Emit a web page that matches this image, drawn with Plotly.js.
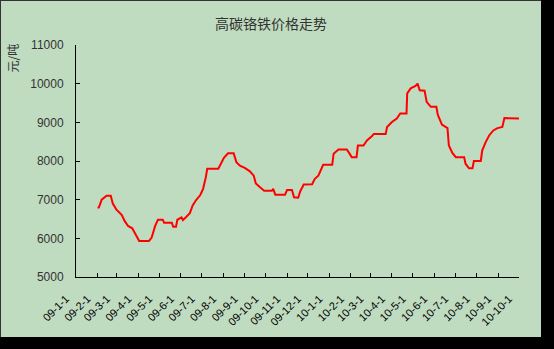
<!DOCTYPE html>
<html>
<head>
<meta charset="utf-8">
<script src="https://cdn.plot.ly/plotly-3.0.1.min.js"></script>
<style>
  html, body { margin: 0; padding: 0; background: #000; width: 554px; height: 349px; overflow: hidden; }
  #chart { position: absolute; left: 0; top: 0; width: 541px; height: 337px; box-sizing: border-box; border-top: 1px solid #333; border-left: 1px solid #333; }
</style>
</head>
<body>
<div id="chart"></div>
<script>
// Price data (元/吨)
const dates = [
  "2009-02-01","2009-02-03","2009-02-07","2009-02-14","2009-02-20","2009-02-23","2009-02-28",
  "2009-03-08","2009-03-12","2009-03-17","2009-03-23","2009-03-29","2009-04-02","2009-04-16",
  "2009-04-20","2009-04-25","2009-04-29","2009-05-06","2009-05-08","2009-05-19","2009-05-21",
  "2009-05-25","2009-05-27","2009-06-02","2009-06-04","2009-06-09","2009-06-14","2009-06-18",
  "2009-06-23","2009-06-29","2009-07-03","2009-07-07","2009-07-09","2009-07-25","2009-07-28",
  "2009-08-02","2009-08-08","2009-08-16","2009-08-20","2009-08-25","2009-09-01","2009-09-08",
  "2009-09-14","2009-09-17","2009-09-23","2009-09-29","2009-10-10","2009-10-12","2009-10-15",
  "2009-10-29","2009-11-01","2009-11-08","2009-11-11","2009-11-17","2009-11-20","2009-11-25",
  "2009-12-07","2009-12-11","2009-12-16","2009-12-23","2010-01-05","2010-01-07","2010-01-14",
  "2010-01-26","2010-01-30","2010-02-02","2010-02-09","2010-02-11","2010-02-19","2010-02-24",
  "2010-03-03","2010-03-06","2010-03-23","2010-03-25","2010-04-01","2010-04-08","2010-04-13",
  "2010-04-22","2010-04-23","2010-04-28","2010-05-05","2010-05-08","2010-05-11","2010-05-18",
  "2010-05-21","2010-05-27","2010-06-04","2010-06-06","2010-06-12","2010-06-20","2010-06-22",
  "2010-06-27","2010-07-02","2010-07-14","2010-07-16","2010-07-21","2010-07-26","2010-07-28",
  "2010-08-07","2010-08-09","2010-08-14","2010-08-19","2010-08-25","2010-08-31","2010-09-07",
  "2010-09-10","2010-10-01"
];
const prices = [
  6800,6800,7000,7100,7100,6900,6750,
  6600,6450,6320,6260,6070,5930,5930,
  6020,6320,6480,6480,6400,6400,6300,
  6300,6480,6540,6470,6560,6650,6850,
  6990,7120,7280,7580,7800,7800,7910,
  8080,8200,8200,7970,7880,7820,7740,
  7620,7420,7320,7230,7230,7280,7130,
  7130,7250,7250,7060,7050,7220,7390,
  7400,7540,7620,7900,7900,8190,8300,
  8300,8190,8100,8100,8400,8400,8530,
  8640,8700,8700,8880,9010,9100,9230,
  9230,9750,9880,9940,10000,9830,9820,
  9530,9400,9400,9200,8940,8850,8400,
  8210,8100,8100,7930,7810,7810,8000,
  8000,8270,8490,8660,8790,8850,8880,
  9110,9100
];
const tickDates = [
  "2009-01-01","2009-02-01","2009-03-01","2009-04-01","2009-05-01","2009-06-01",
  "2009-07-01","2009-08-01","2009-09-01","2009-10-01","2009-11-01","2009-12-01",
  "2010-01-01","2010-02-01","2010-03-01","2010-04-01","2010-05-01","2010-06-01",
  "2010-07-01","2010-08-01","2010-09-01","2010-10-01"
];
const tickLabels = [
  "09-1-1","09-2-1","09-3-1","09-4-1","09-5-1","09-6-1",
  "09-7-1","09-8-1","09-9-1","09-10-1","09-11-1","09-12-1",
  "10-1-1","10-2-1","10-3-1","10-4-1","10-5-1","10-6-1",
  "10-7-1","10-8-1","10-9-1","10-10-1"
];
const yTicks = [5000,6000,7000,8000,9000,10000,11000];
const titleText = "高碳铬铁价格走势";
const yTitle = "元/吨";

const trace = {
  x: dates,
  y: prices,
  type: "scatter",
  mode: "lines",
  line: { color: "#FF0000", width: 2 },
  hoverinfo: "skip"
};

const bg = "#C0DCC0";
const layout = {
  width: 540,
  height: 336,
  paper_bgcolor: bg,
  plot_bgcolor: bg,
  margin: { l: 75, r: 22, t: 44, b: 60 },
  showlegend: false,
  title: {
    text: titleText,
    font: { family: "Noto Sans CJK SC, sans-serif", size: 14, color: "#333" },
    x: 0.5, xref: "container", xanchor: "center",
    y: 1 - 23/336, yref: "container", yanchor: "middle"
  },
  xaxis: {
    type: "date",
    range: ["2009-01-01", "2010-10-01"],
    tickvals: tickDates,
    ticktext: tickLabels,
    tickangle: -45,
    ticks: "inside",
    ticklen: 4,
    tickcolor: "#000",
    showline: true,
    linecolor: "#000",
    linewidth: 1,
    showgrid: false,
    zeroline: false,
    ticklabelstandoff: 10,
    ticklabelshift: -10,
    tickfont: { family: "Liberation Sans, Arial, sans-serif", size: 11, color: "#000" }
  },
  yaxis: {
    range: [5000, 11000],
    tickvals: yTicks,
    ticktext: yTicks.map(String),
    ticks: "inside",
    ticklen: 4,
    tickcolor: "#000",
    showline: true,
    linecolor: "#000",
    linewidth: 1,
    showgrid: false,
    zeroline: false,
    ticklabelstandoff: 9,
    tickfont: { family: "Liberation Sans, Arial, sans-serif", size: 12, color: "#333" }
  },
  annotations: [{
    text: yTitle,
    xref: "paper", yref: "paper",
    x: -75/443 + 11/443, y: 1 + 3/231,
    xanchor: "center", yanchor: "top",
    textangle: -90,
    showarrow: false,
    font: { family: "Noto Sans CJK SC, sans-serif", size: 12, color: "#333" }
  }]
};

Plotly.newPlot("chart", [trace], layout, { displayModeBar: false, staticPlot: true });
</script>
</body>
</html>
